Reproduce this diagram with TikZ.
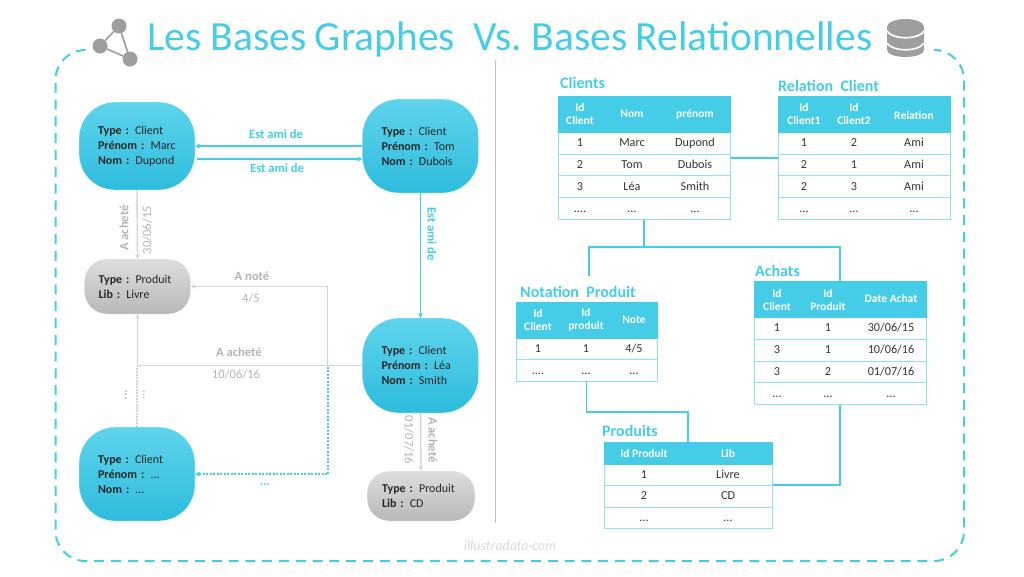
\documentclass[tikz,border=0pt]{standalone}
\usepackage{fontspec}
\setmainfont{Carlito}
\usepackage{tikz}
\usetikzlibrary{arrows.meta,calc}
\usepackage{xcolor}
\definecolor{skyline}{HTML}{45CCE6}
\definecolor{skyTop}{HTML}{5FD4EC}
\definecolor{skyMid}{HTML}{3CCFEC}
\definecolor{skyLow}{HTML}{2DBCDD}
\definecolor{rowline}{HTML}{8FE2F2}
\definecolor{greyline}{HTML}{D4D4D4}
\definecolor{greytext}{HTML}{B4B4B4}
\definecolor{iconGrey}{HTML}{9E9E9E}
\newcommand{\threeDots}{...}
\newcommand{\fourDots}{....}

\begin{document}
\begin{tikzpicture}[
    x=1pt, y=-1pt,
    clientNode/.style={draw=white, top color=skyTop, middle color=skyMid, bottom color=skyLow, rounded corners=36pt, font=\fontsize{12}{15}\selectfont, align=left, minimum width=116pt, text width=78pt, inner xsep=19pt, text=black!85},
    productNode/.style={draw=white, top color=black!13, bottom color=black!28, rounded corners=22pt, font=\fontsize{12}{15}\selectfont, align=left, text width=78pt, inner xsep=14pt, text=black!85},
    skyArrow/.style={-{Stealth[length=5pt,width=5pt]}, draw=skyline, line width=1.2pt},
    greyArrow/.style={-{Stealth[length=5pt,width=5pt]}, draw=greyline, line width=1.4pt},
    skyLabel/.style={text=skyline, font=\fontsize{12.6}{14}\selectfont\bfseries},
    greyLabel/.style={text=greytext, font=\fontsize{12.6}{14}\selectfont\bfseries},
    dateLabel/.style={text=greytext, font=\fontsize{12.6}{14}\selectfont},
    tableFrame/.style={draw=rowline, line width=1pt, inner sep=0pt},
    tableHead/.style={fill=skyline, draw=skyline, line width=0.6pt, inner sep=0pt, anchor=north},
    headCell/.style={text=white, font=\fontsize{11.5}{13.6}\selectfont\bfseries, align=center, inner sep=0pt},
    bodyCell/.style={text=black!80, font=\fontsize{12.2}{13}\selectfont, inner sep=0pt, text height=8pt, text depth=2pt},
    tableTitle/.style={text=skyline, font=\fontsize{16}{18}\selectfont\bfseries, anchor=base west, inner sep=0pt},
    rowLine/.style={draw=rowline, line width=1pt},
    linkLine/.style={draw=skyline, line width=1.2pt}
]
    \useasboundingbox (0,0) rectangle (1024,576);

    % frame and title
    \draw[skyline, line width=2pt, dash pattern=on 10pt off 6.8pt, rounded corners=30pt] (85,50) -- (55.5,50) -- (55.5,561) -- (964,561) -- (964,50) -- (935,50);
    \draw[black!25, line width=1pt] (495,60) -- (495,523);
    \node[text=skyline, font=\fontsize{41.5}{44}\selectfont, anchor=base west, inner sep=0pt] (title) at (147,50) {Les Bases\hspace{-1pt} Graphes\ \ Vs.\hspace{-3pt} Bases\hspace{-1pt} Relationnelles};
    \node[text=black!15, font=\fontsize{14}{16}\selectfont\itshape] (mark) at (510,546) {illustradata·com};

    % graph icon
    \node[circle, fill=iconGrey, minimum size=15pt, inner sep=0pt] (iconA) at (119,26) {};
    \node[circle, fill=iconGrey, minimum size=15pt, inner sep=0pt] (iconB) at (100,46) {};
    \node[circle, fill=iconGrey, minimum size=15pt, inner sep=0pt] (iconC) at (130,59) {};
    \draw[iconGrey, line width=1.6pt] (iconA) -- (iconB) -- (iconC) -- (iconA);

    % database icon
    \fill[iconGrey] (887,27) rectangle (924,50);
    \fill[iconGrey] (905.5,27) ellipse (18.5 and 8);
    \fill[iconGrey] (905.5,50) ellipse (18.5 and 7);
    \draw[white, line width=1.6pt] (887,31) .. controls (892,40) and (919,40) .. (924,31);
    \draw[white, line width=1.6pt] (887,43) .. controls (892,52) and (919,52) .. (924,43);

    % graph side
    \node[clientNode, minimum height=88pt] (marc) at (137,146) {\textbf{Type :} Client\\\textbf{Prénom :} Marc\\\textbf{Nom :} Dupond};
    \node[clientNode, minimum height=94pt] (tom) at (420.5,146) {\textbf{Type :} Client\\\textbf{Prénom :} Tom\\\textbf{Nom :} Dubois};
    \node[clientNode, minimum height=95pt] (lea) at (420.5,365.5) {\textbf{Type :} Client\\\textbf{Prénom :} Léa\\\textbf{Nom :} Smith};
    \node[clientNode, minimum height=94pt] (other) at (137,474) {\textbf{Type :} Client\\\textbf{Prénom :} ...\\\textbf{Nom :} ...};
    \node[productNode, minimum width=105pt, minimum height=55pt] (livre) at (137.5,286.5) {\textbf{Type :} Produit\\\textbf{Lib :} Livre};
    \node[productNode, minimum width=108pt, minimum height=50pt] (cd) at (421,496) {\textbf{Type :} Produit\\\textbf{Lib :} CD};

    \coordinate (junction) at (327.5,365.5);
    \draw[skyArrow] (tom.west) -- (marc.east);
    \draw[skyArrow] ([xshift=2pt,yshift=-13pt]marc.east) -- ([yshift=-13pt]tom.west);
    \draw[skyArrow] (tom.south) -- (lea.north);
    \draw[greyArrow] (marc.south) -- (livre.north);
    \draw[greyArrow] (lea.west) -| (livre.south);
    \draw[greyArrow] (junction) |- (livre.east);
    \draw[greyArrow] (lea.south) -- (cd.north);
    \draw[skyArrow, line width=1.5pt, dash pattern=on 2pt off 1.5pt] ([xshift=0.5pt,yshift=-1pt]junction) |- (other.east);
    \draw[greyline, line width=1.2pt, dash pattern=on 1.5pt off 1.5pt] (other.north) -- (other.north |- lea.west);

    \node[skyLabel] (amiA) at (276,134) {Est ami de};
    \node[skyLabel] (amiB) at (277,168) {Est ami de};
    \node[skyLabel, rotate=-90] (amiC) at (432,234) {Est ami de};
    \node[skyLabel] (amiD) at (265,485) {...};
    \node[greyLabel, rotate=90] (achatA) at (124,228) {A acheté};
    \node[dateLabel, rotate=90] (dateA) at (147,230) {30/06/15};
    \node[greyLabel] (note) at (252,276) {A noté};
    \node[dateLabel] (noteVal) at (251,298) {4/5};
    \node[greyLabel] (achatB) at (239,352) {A acheté};
    \node[dateLabel] (dateB) at (236,374) {10/06/16};
    \node[greyLabel, rotate=-90] (achatC) at (433,440) {A acheté};
    \node[dateLabel, rotate=-90] (dateC) at (409,440) {01/07/16};
    \node[greyLabel, rotate=90] (dotsA) at (126,395) {...};
    \node[dateLabel, rotate=90] (dotsB) at (144,395) {...};

    % table Clients
    \node[tableFrame, minimum width=172pt, minimum height=123pt] (clients) at (644,157.5) {};
    \node[tableHead, minimum width=172pt, minimum height=36pt] (clientsHead) at (clients.north) {};
    \foreach \y in {154,175,197} \draw[rowLine] (558,\y) -- (730,\y);
    \node[tableTitle] (clientsTitle) at (560,88) {Clients};
    \node[headCell] (clientsH1) at (580,114) {Id\\Client};
    \node[headCell] (clientsH2) at (632,114) {Nom};
    \node[headCell] (clientsH3) at (695,114) {prénom};
    \foreach \y/\a/\b/\c [count=\i] in {143/1/Marc/Dupond, 165/2/Tom/Dubois, 187/3/Léa/Smith, 209/\fourDots/\threeDots/\threeDots} {
        \node[bodyCell] (clientsA\i) at (580,\y) {\a};
        \node[bodyCell] (clientsB\i) at (632,\y) {\b};
        \node[bodyCell] (clientsC\i) at (695,\y) {\c};
    }

    % table Relation Client
    \node[tableFrame, minimum width=172pt, minimum height=123pt] (relation) at (864,157.5) {};
    \node[tableHead, minimum width=172pt, minimum height=36pt] (relationHead) at (relation.north) {};
    \foreach \y in {154,175,197} \draw[rowLine] (778,\y) -- (950,\y);
    \node[tableTitle] (relationTitle) at (778,91) {Relation\ \ Client};
    \node[headCell] (relationH1) at (804,114) {Id\\Client1};
    \node[headCell] (relationH2) at (854,114) {Id\\Client2};
    \node[headCell] (relationH3) at (914,115) {Relation};
    \foreach \y/\a/\b/\c [count=\i] in {143/1/2/Ami, 165/2/1/Ami, 187/2/3/Ami, 209/\threeDots/\threeDots/\threeDots} {
        \node[bodyCell] (relationA\i) at (804,\y) {\a};
        \node[bodyCell] (relationB\i) at (854,\y) {\b};
        \node[bodyCell] (relationC\i) at (914,\y) {\c};
    }

    % table Notation Produit
    \node[tableFrame, minimum width=141pt, minimum height=79pt] (notation) at (586.5,341.5) {};
    \node[tableHead, minimum width=141pt, minimum height=36pt] (notationHead) at (notation.north) {};
    \draw[rowLine] (516,359) -- (657,359);
    \node[tableTitle] (notationTitle) at (520,297) {Notation\ \ Produit};
    \node[headCell] (notationH1) at (538,320) {Id\\Client};
    \node[headCell] (notationH2) at (586,320) {Id\\produit};
    \node[headCell] (notationH3) at (634,320) {Note};
    \foreach \y/\a/\b/\c [count=\i] in {349/1/1/{4/5}, 371/\fourDots/\threeDots/\threeDots} {
        \node[bodyCell] (notationA\i) at (538,\y) {\a};
        \node[bodyCell] (notationB\i) at (586,\y) {\b};
        \node[bodyCell] (notationC\i) at (634,\y) {\c};
    }

    % table Achats
    \node[tableFrame, minimum width=172pt, minimum height=123pt] (achats) at (840,342.5) {};
    \node[tableHead, minimum width=172pt, minimum height=36pt] (achatsHead) at (achats.north) {};
    \foreach \y in {339,361,382} \draw[rowLine] (754,\y) -- (926,\y);
    \node[tableTitle] (achatsTitle) at (755,276) {Achats};
    \node[headCell] (achatsH1) at (777,300) {Id\\Client};
    \node[headCell] (achatsH2) at (828,300) {Id\\Produit};
    \node[headCell] (achatsH3) at (891,299) {Date Achat};
    \foreach \y/\a/\b/\c [count=\i] in {328/1/1/{30/06/15}, 350/3/1/{10/06/16}, 372/3/2/{01/07/16}, 394/\threeDots/\threeDots/\threeDots} {
        \node[bodyCell] (achatsA\i) at (777,\y) {\a};
        \node[bodyCell] (achatsB\i) at (828,\y) {\b};
        \node[bodyCell] (achatsC\i) at (891,\y) {\c};
    }

    % table Produits
    \node[tableFrame, minimum width=168pt, minimum height=86pt] (produits) at (688,485) {};
    \node[tableHead, minimum width=168pt, minimum height=22pt] (produitsHead) at (produits.north) {};
    \foreach \y in {485,507} \draw[rowLine] (604,\y) -- (772,\y);
    \node[tableTitle] (produitsTitle) at (602,436) {Produits};
    \node[headCell] (produitsH1) at (644,453) {Id Produit};
    \node[headCell] (produitsH2) at (728,453) {Lib};
    \foreach \y/\a/\b [count=\i] in {475/1/Livre, 496/2/CD, 518/\threeDots/\threeDots} {
        \node[bodyCell] (produitsA\i) at (644,\y) {\a};
        \node[bodyCell] (produitsB\i) at (728,\y) {\b};
    }

    % links between tables
    \coordinate (split) at (644,247);
    \coordinate (notationEnd) at (589,276);
    \coordinate (noteBend) at (637,412);
    \draw[linkLine] ([yshift=-0.5pt]clients.east) -- ([yshift=-0.5pt]relation.west);
    \draw[linkLine] (clients.south) -- (split);
    \draw[linkLine] (notationEnd) |- (split) -| (achats.north);
    \draw[linkLine] (notation.south) |- (noteBend) -| (produits.north);
    \draw[linkLine] (achats.south) |- (produits.east);
\end{tikzpicture}
\end{document}
